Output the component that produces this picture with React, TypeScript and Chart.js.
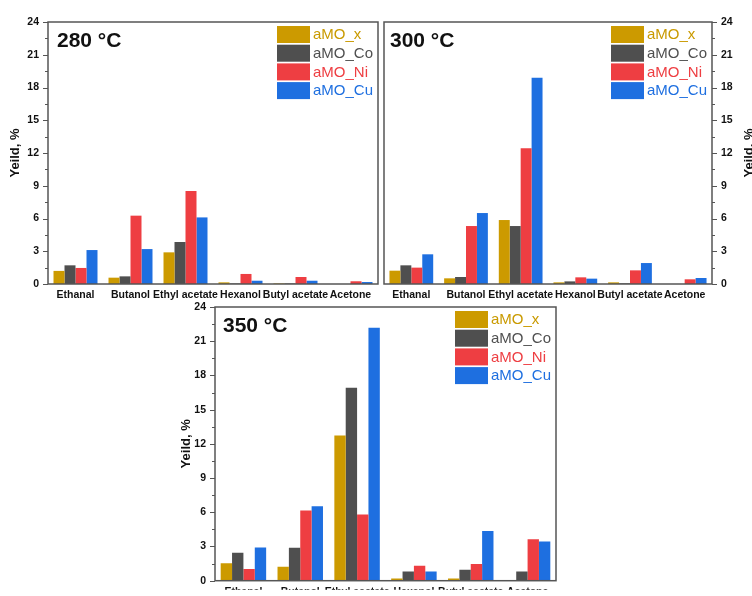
import React, { useEffect, useRef } from 'react';
import { Chart, registerables } from 'chart.js';

Chart.register(...registerables);

// ---------- data ----------
const categories = ['Ethanal', 'Butanol', 'Ethyl acetate', 'Hexanol', 'Butyl acetate', 'Acetone'];
const seriesNames = ['aMO_x', 'aMO_Co', 'aMO_Ni', 'aMO_Cu'];
const barColors = ['#CC9A00', '#4F4F4F', '#EE3E42', '#1E6FE0'];
const legendTextColors = ['#C99A00', '#505050', '#EE3E42', '#1E6FE0'];
const yMax = 24;
const yMajorStep = 3;
const yMinorStep = 1.5;
const yTitle = 'Yeild, %';
const panelTitles = ['280 °C', '300 °C', '350 °C'];

// 280 °C
const aMOx280 = [1.2, 0.58, 2.9, 0.15, 0.05, 0];
const aMOCo280 = [1.71, 0.7, 3.85, 0.05, 0.05, 0];
const aMONi280 = [1.47, 6.26, 8.52, 0.92, 0.64, 0.25];
const aMOCu280 = [3.11, 3.2, 6.1, 0.3, 0.3, 0.18];

// 300 °C
const aMOx300 = [1.22, 0.52, 5.86, 0.15, 0.15, 0];
const aMOCo300 = [1.71, 0.64, 5.31, 0.24, 0.06, 0];
const aMONi300 = [1.5, 5.31, 12.43, 0.61, 1.25, 0.43];
const aMOCu300 = [2.72, 6.5, 18.9, 0.49, 1.92, 0.55];

// 350 °C
const aMOx350 = [1.52, 1.22, 12.74, 0.2, 0.2, 0];
const aMOCo350 = [2.45, 2.9, 16.92, 0.8, 0.97, 0.8];
const aMONi350 = [1.02, 6.16, 5.81, 1.32, 1.46, 3.64];
const aMOCu350 = [2.92, 6.53, 22.19, 0.8, 4.35, 3.44];

const FONT = 'Arial, "Liberation Sans", sans-serif';

type PanelCfg = {
  title: string;
  series: number[][];
  left: number;
  top: number;
  w: number;
  h: number;
  padding: { left: number; top: number; right: number; bottom: number };
  yWidth: number;
  xHeight: number;
  side: 'left' | 'right';
  titleDx: number;
  yTitleOffset: number;
  xPad: number;
};

const panels: PanelCfg[] = [
  {
    title: panelTitles[0],
    series: [aMOx280, aMOCo280, aMONi280, aMOCu280],
    left: 0, top: 0, w: 380, h: 300,
    padding: { left: 0, top: 22, right: 2, bottom: 0 },
    yWidth: 48, xHeight: 16, side: 'left', titleDx: 9, yTitleOffset: 33, xPad: 5,
  },
  {
    title: panelTitles[1],
    series: [aMOx300, aMOCo300, aMONi300, aMOCu300],
    left: 380, top: 0, w: 372, h: 300,
    padding: { left: 4, top: 22, right: 0, bottom: 0 },
    yWidth: 40, xHeight: 16, side: 'right', titleDx: 6, yTitleOffset: 37.5, xPad: 5,
  },
  {
    title: panelTitles[2],
    series: [aMOx350, aMOCo350, aMONi350, aMOCu350],
    left: 150, top: 290, w: 410, h: 306,
    padding: { left: 0, top: 17, right: 4, bottom: 0 },
    yWidth: 65, xHeight: 9, side: 'left', titleDx: 8, yTitleOffset: 29, xPad: 5,
  },
];

const decoPlugin = {
  id: 'deco',
  afterDraw(chart: any, _args: any, opts: any) {
    const { ctx, chartArea: a } = chart;
    const ys = chart.scales.y;
    ctx.save();
    // frame
    ctx.strokeStyle = '#555';
    ctx.lineWidth = 1.5;
    ctx.strokeRect(a.left, a.top, a.right - a.left, a.bottom - a.top);
    // y ticks (major + minor)
    const x0 = opts.side === 'left' ? a.left : a.right;
    const dir = opts.side === 'left' ? -1 : 1;
    ctx.lineWidth = 1;
    for (let v = 0; v <= yMax + 1e-9; v += yMinorStep) {
      const y = Math.round(ys.getPixelForValue(v)) + 0.5;
      const r = v / yMajorStep;
      const major = Math.abs(r - Math.round(r)) < 1e-6;
      const len = major ? 5 : 3;
      ctx.beginPath();
      ctx.moveTo(x0, y);
      ctx.lineTo(x0 + dir * len, y);
      ctx.stroke();
    }
    // panel title
    ctx.fillStyle = '#111';
    ctx.font = `bold 21px ${FONT}`;
    ctx.textAlign = 'left';
    ctx.textBaseline = 'alphabetic';
    ctx.fillText(opts.title, a.left + opts.titleDx, a.top + 25);
    // y axis title
    ctx.save();
    ctx.translate(x0 + dir * opts.yTitleOffset, (a.top + a.bottom) / 2);
    ctx.rotate(-Math.PI / 2);
    ctx.font = `bold 13px ${FONT}`;
    ctx.textAlign = 'center';
    ctx.textBaseline = 'middle';
    ctx.fillStyle = '#111';
    ctx.fillText(yTitle, 0, 0);
    ctx.restore();
    // legend
    const bx = a.right - 101;
    const by = a.top + 4;
    const pitch = 18.7;
    ctx.font = `15px ${FONT}`;
    ctx.textBaseline = 'middle';
    ctx.textAlign = 'left';
    chart.data.datasets.forEach((ds: any, i: number) => {
      const y = by + i * pitch;
      ctx.fillStyle = ds.backgroundColor;
      ctx.fillRect(bx, y, 33, 17);
      ctx.fillStyle = legendTextColors[i];
      ctx.fillText(ds.label, bx + 36, y + 9);
    });
    ctx.restore();
  },
};

function Panel({ cfg }: { cfg: PanelCfg }) {
  const ref = useRef<HTMLCanvasElement | null>(null);
  useEffect(() => {
    if (!ref.current) return;
    const tickFont = { family: FONT, size: 10.5, weight: 'bold' as const };
    const chart = new Chart(ref.current, {
      type: 'bar',
      data: {
        labels: categories,
        datasets: seriesNames.map((name, i) => ({
          label: name,
          data: cfg.series[i],
          backgroundColor: barColors[i],
          borderWidth: 0,
          categoryPercentage: 0.8,
          barPercentage: 1,
        })),
      },
      options: {
        responsive: false,
        animation: false,
        layout: { padding: cfg.padding },
        plugins: {
          legend: { display: false },
          tooltip: { enabled: false },
          // @ts-ignore
          deco: { title: cfg.title, side: cfg.side, titleDx: cfg.titleDx, yTitleOffset: cfg.yTitleOffset },
        },
        scales: {
          x: {
            grid: { display: false, drawTicks: false },
            border: { display: false },
            ticks: {
              font: tickFont,
              color: '#111',
              padding: cfg.xPad,
              maxRotation: 0,
              minRotation: 0,
              autoSkip: false,
            },
            afterFit: (s: any) => {
              s.height = cfg.xHeight;
            },
          },
          y: {
            position: cfg.side,
            min: 0,
            max: yMax,
            grid: { display: false, drawTicks: false },
            border: { display: false },
            ticks: {
              stepSize: yMajorStep,
              font: tickFont,
              color: '#111',
              padding: 9,
            },
            afterFit: (s: any) => {
              s.width = cfg.yWidth;
            },
          },
        },
      },
      plugins: [decoPlugin],
    } as any);
    return () => chart.destroy();
  }, [cfg]);
  return (
    <canvas
      ref={ref}
      width={cfg.w}
      height={cfg.h}
      style={{ position: 'absolute', left: cfg.left, top: cfg.top, width: cfg.w, height: cfg.h, display: 'block' }}
    />
  );
}

export default function App() {
  return (
    <div
      style={{
        position: 'fixed',
        left: 0,
        top: 0,
        width: 752,
        height: 596,
        background: '#fff',
        overflow: 'hidden',
      }}
    >
      {panels.map((p, i) => (
        <Panel key={i} cfg={p} />
      ))}
    </div>
  );
}
